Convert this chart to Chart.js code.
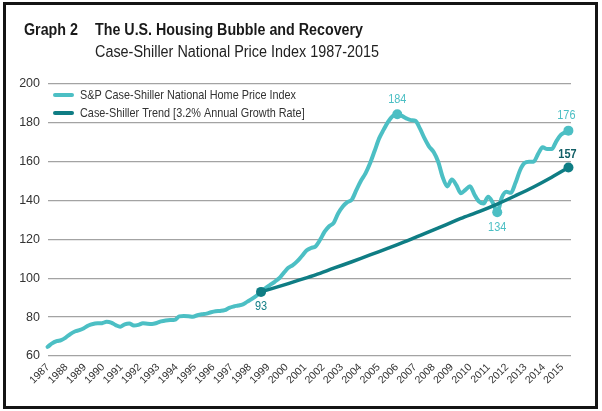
<!DOCTYPE html>
<html>
<head>
<meta charset="utf-8">
<script src="https://cdn.jsdelivr.net/npm/chart.js@4/dist/chart.umd.min.js"></script>
<style>
html,body{margin:0;padding:0;background:#fff;}
#wrap{position:relative;width:602px;height:411px;}
</style>
</head>
<body>
<div id="wrap"><canvas id="c" width="602" height="411"></canvas></div>
<script>
// ---------- texts ----------
const titleLead = 'Graph 2';
const titleMain = 'The U.S. Housing Bubble and Recovery';
const subtitleText = 'Case-Shiller National Price Index 1987-2015';
const hpiLabel = 'S&P Case-Shiller National Home Price Index';
const trendLabel = 'Case-Shiller Trend [3.2% Annual Growth Rate]';

// ---------- tick labels ----------
const yearLabels = [1987,1988,1989,1990,1991,1992,1993,1994,1995,1996,1997,1998,1999,2000,2001,
  2002,2003,2004,2005,2006,2007,2008,2009,2010,2011,2012,2013,2014,2015];
const yTickValues = [60,80,100,120,140,160,180,200];

// ---------- series: Case-Shiller index, quarterly (Jan/Apr/Jul/Oct) 1987-2015, then Dec 2015 ----------
const hpiValues = [
  63.5, 64.7, 66.5, 67.6,   // 1987
  68.2, 69.5, 71.3, 72.6,   // 1988
  73.3, 74.3, 75.7, 76.5,   // 1989
  76.8, 76.9, 77.6, 77.2,   // 1990
  75.9, 75.1, 76.3, 76.7,   // 1991
  75.7, 76.0, 76.8, 76.6,   // 1992
  76.5, 77.0, 77.8, 78.3,   // 1993
  78.5, 78.6, 80.4, 80.6,   // 1994
  80.5, 80.2, 81.0, 81.5,   // 1995
  81.8, 82.5, 83.0, 83.2,   // 1996
  83.6, 84.8, 85.5, 86.0,   // 1997
  86.6, 88.0, 89.4, 91.0,   // 1998
  93.0, 95.0, 96.6, 98.2,   // 1999
  100.0, 102.8, 105.4, 106.8, // 2000
  108.8, 111.5, 114.3, 115.6, // 2001
  116.4, 119.8, 124.0, 126.8, // 2002
  128.5, 133.5, 137.0, 139.2, // 2003
  140.5, 145.5, 150.2, 154.0, // 2004
  159.2, 165.5, 172.0, 176.5, // 2005
  180.6, 183.5, 184.4, 183.6, // 2006
  182.3, 181.4, 181.0, 177.0, // 2007
  172.0, 167.8, 165.0, 160.0, // 2008
  152.0, 147.3, 150.8, 148.0, // 2009
  143.8, 145.5, 147.4, 143.0, // 2010
  139.5, 138.5, 142.0, 139.0, // 2011
  134.0, 141.5, 144.5, 144.0, // 2012
  149.0, 155.5, 159.3, 160.0, // 2013
  160.0, 164.0, 167.4, 166.5, // 2014
  166.5, 170.5, 173.8, 175.2, // 2015
  176.0                       // Dec 2015
];
const hpiDates = hpiValues.map((v, i) => i < hpiValues.length - 1 ? 1987 + i / 4 : 2015 + 11 / 12);

// ---------- series: trend line (from Jan 1999) ----------
const trendDates = [1999,2000,2001,2002,2003,2004,2005,2006,2007,2008,2009,2010,2011,2012,2013,2014,2015,2015.92];
const trendValues = [93,95.8,98.8,101.8,105.2,108.5,112,115.5,119.1,123,126.8,130.8,134.3,138.2,142.5,147,152,157];

// ---------- fonts / colours ----------
const FONT = '"Liberation Sans", Arial, Helvetica, sans-serif';
const LIGHT = '#4cbfc4';
const DARK = '#0f7d84';
const TEXT = '#333333';
Chart.defaults.font.family = FONT;

// draw text horizontally condensed (reference uses a condensed face)
function drawCondensed(ctx, txt, x, y, font, sq, align) {
  ctx.save();
  ctx.font = font;
  ctx.translate(x, y);
  ctx.scale(sq, 1);
  ctx.textAlign = align || 'left';
  ctx.fillText(txt, 0, 0);
  ctx.restore();
}
function fitScale(ctx, txt, font, targetW) {
  ctx.save(); ctx.font = font; const w = ctx.measureText(txt).width; ctx.restore();
  return Math.min(1, targetW / w);
}

// ---------- plugins ----------
const frameTitle = {
  id: 'frameTitle',
  beforeDraw(chart) {
    const ctx = chart.ctx;
    ctx.save();
    ctx.fillStyle = '#ffffff';
    ctx.fillRect(0, 0, chart.width, chart.height);
    ctx.textBaseline = 'alphabetic';
    const fb = 'bold 16px ' + FONT, fr = '16px ' + FONT;
    ctx.fillStyle = '#1a1a1a';
    drawCondensed(ctx, titleLead, 24, 35, fb, fitScale(ctx, titleLead, fb, 54));
    drawCondensed(ctx, titleMain, 95, 35, fb, fitScale(ctx, titleMain, fb, 268));
    ctx.fillStyle = '#222222';
    drawCondensed(ctx, subtitleText, 95, 57, fr, fitScale(ctx, subtitleText, fr, 284));
    ctx.restore();
  },
  afterDraw(chart) {
    const ctx = chart.ctx;
    ctx.save();
    ctx.strokeStyle = '#141414';
    ctx.lineWidth = 3;
    ctx.strokeRect(4.5, 3.5, 592, 404);
    ctx.restore();
  }
};

const customLegend = {
  id: 'customLegend',
  afterDraw(chart) {
    const ctx = chart.ctx;
    const area = chart.chartArea;
    const f = '13px ' + FONT;
    const sq = fitScale(ctx, chart.data.datasets[0].label, f, 216);
    ctx.save();
    chart.data.datasets.forEach((ds, i) => {
      const y = area.top + 11 + i * 18;
      const x0 = area.left + 7;
      ctx.strokeStyle = ds.borderColor;
      ctx.lineWidth = 4;
      ctx.lineCap = 'round';
      ctx.beginPath(); ctx.moveTo(x0, y); ctx.lineTo(x0 + 17, y); ctx.stroke();
      ctx.fillStyle = TEXT;
      ctx.textBaseline = 'middle';
      drawCondensed(ctx, ds.label, area.left + 32, y, f, sq);
    });
    ctx.restore();
  }
};

function argMax(a){ let k=0; a.forEach((v,i)=>{ if (v>a[k]) k=i; }); return k; }
function argMinAfter(a, s){ let k=s; for(let i=s;i<a.length;i++){ if (a[i]<a[k]) k=i; } return k; }
const peakIdx = argMax(hpiValues);
const troughIdx = argMinAfter(hpiValues, peakIdx);
const lastIdx = hpiValues.length - 1;
const trendLast = trendValues.length - 1;
const hpiMarks = [peakIdx, troughIdx, lastIdx];
const trendMarks = [0, trendLast];

const annotations = {
  id: 'annotations',
  afterDatasetsDraw(chart) {
    const ctx = chart.ctx;
    const items = [
      {ds: 0, i: peakIdx, dy: -15, color: LIGHT, bold: false},
      {ds: 0, i: troughIdx, dy: 15, color: LIGHT, bold: false},
      {ds: 0, i: lastIdx, dy: -15, color: LIGHT, bold: false, dx: -2},
      {ds: 1, i: 0, dy: 15, color: DARK, bold: false},
      {ds: 1, i: trendLast, dy: -13, color: '#125f66', bold: true, dx: -1}
    ];
    ctx.save();
    items.forEach(it => {
      const el = chart.getDatasetMeta(it.ds).data[it.i];
      const v = chart.data.datasets[it.ds].data[it.i].y;
      ctx.fillStyle = it.color;
      ctx.textBaseline = 'middle';
      drawCondensed(ctx, String(Math.round(v)), el.x + (it.dx || 0), el.y + it.dy,
        (it.bold ? 'bold ' : '') + '13px ' + FONT, 0.84, 'center');
    });
    ctx.restore();
  }
};

// ---------- chart ----------
new Chart(document.getElementById('c'), {
  type: 'line',
  data: {
    datasets: [
      {
        label: hpiLabel,
        data: hpiDates.map((d, i) => ({x: d, y: hpiValues[i]})),
        borderColor: LIGHT,
        backgroundColor: LIGHT,
        borderWidth: 4,
        borderCapStyle: 'round',
        borderJoinStyle: 'round',
        cubicInterpolationMode: 'monotone',
        pointRadius: (c) => hpiMarks.includes(c.dataIndex) ? 5 : 0,
        pointBackgroundColor: LIGHT,
        pointBorderWidth: 0,
        clip: 8,
        order: 1,
        xAxisID: 'x', yAxisID: 'y'
      },
      {
        label: trendLabel,
        data: trendDates.map((d, i) => ({x: d, y: trendValues[i]})),
        borderColor: DARK,
        backgroundColor: DARK,
        borderWidth: 3.5,
        borderCapStyle: 'round',
        tension: 0.3,
        pointRadius: (c) => trendMarks.includes(c.dataIndex) ? 5 : 0,
        pointBackgroundColor: DARK,
        pointBorderWidth: 0,
        clip: 8,
        order: 0,
        xAxisID: 'x', yAxisID: 'y'
      }
    ]
  },
  options: {
    responsive: false,
    animation: false,
    devicePixelRatio: 1,
    layout: {padding: {top: 84, right: 31, left: 0, bottom: 0}},
    plugins: {
      legend: {display: false},
      tooltip: {enabled: false},
      title: {display: false}
    },
    scales: {
      x: {
        type: 'linear',
        display: false,
        min: 1987.275,
        max: 2016.06
      },
      xl: {
        type: 'linear',
        position: 'bottom',
        min: 1987,
        max: 2015.486,
        grid: {display: false, drawTicks: false},
        border: {display: false},
        afterBuildTicks: (axis) => { axis.ticks = yearLabels.map(v => ({value: v})); },
        afterFit: (axis) => { axis.height = 55; },
        ticks: {
          autoSkip: false,
          minRotation: 45,
          maxRotation: 45,
          padding: 5,
          color: TEXT,
          font: {size: 10.5},
          callback: (v) => String(v)
        }
      },
      y: {
        type: 'linear',
        min: 60,
        max: 200,
        afterBuildTicks: (axis) => { axis.ticks = yTickValues.map(v => ({value: v})); },
        afterFit: (axis) => { axis.width = 48; },
        grid: {color: '#a3a3a3', lineWidth: 1.3, drawTicks: false},
        border: {display: false},
        ticks: {
          padding: 8,
          color: TEXT,
          font: {size: 12.5},
          callback: (v) => String(v)
        }
      }
    }
  },
  plugins: [frameTitle, customLegend, annotations]
});
</script>
</body>
</html>
